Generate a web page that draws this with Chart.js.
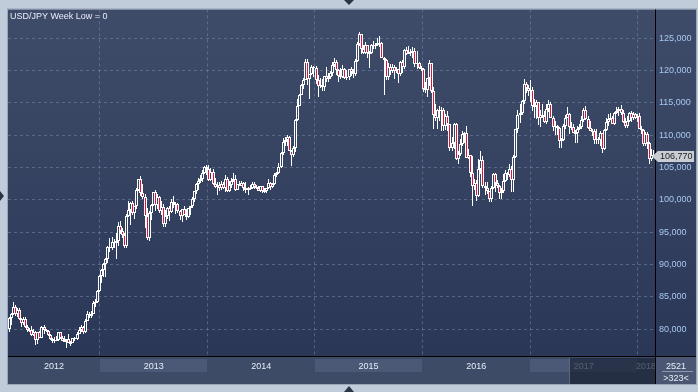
<!DOCTYPE html>
<html><head><meta charset="utf-8">
<script src="https://cdn.jsdelivr.net/npm/chart.js@4.4.1/dist/chart.umd.min.js"></script>
<style>html,body{margin:0;padding:0;background:#c1ccda;overflow:hidden}</style>
</head><body>
<canvas id="c" width="698" height="392"></canvas>
<script>
const chartTitle = 'USD/JPY Week Low = 0';
const firstWeek = new Date(2012, 1, 27); // week index 0
const yearLabels = ['2012', '2013', '2014', '2015', '2016', '2017', '2018'];
const yTickStep = 5;
const barCountText = '2521';
const visibleCountText = '>323<';
const navigatorFromWeek = 272;

const opens = [
 80.0,81.7,82.4,83.4,82.4,82.9,81.6,80.9,81.5,80.3,79.8,79.9,79.1,79.6,78.3,79.5,78.7,80.4,79.8,79.7,79.1,78.5,78.2,78.3,78.3,79.6,78.7,78.2,78.2,78.4,77.9,77.9,78.6,78.4,79.3,79.8,80.4,79.5,81.3,82.4,82.1,82.4,84.0,84.2,85.9,
 88.2,89.2,90.1,90.9,92.7,92.6,93.5,93.4,93.6,96.0,95.2,94.5,92.8,97.5,98.4,99.5,98.0,99.0,101.6,103.2,101.0,100.5,97.5,94.1,97.9,99.2,101.2,99.2,100.4,98.2,98.9,96.2,97.5,98.7,98.1,99.7,99.4,99.3,98.3,97.5,98.6,97.7,97.4,98.7,99.1,100.2,101.3,102.4,102.9,103.2,104.1,105.1,
 104.8,103.0,104.3,102.4,102.0,102.3,101.8,102.5,101.8,103.3,101.3,102.3,102.9,103.3,101.6,102.4,102.2,102.6,101.8,101.5,101.9,101.8,102.5,102.0,101.9,101.4,102.1,101.3,101.4,101.8,102.6,102.0,102.4,103.8,104.1,105.1,107.3,109.0,109.3,109.8,107.6,106.9,108.1,112.3,114.6,116.3,117.7,118.6,121.4,118.7,119.4,120.5,
 120.4,118.6,117.6,117.7,117.5,119.1,118.7,119.0,119.6,120.8,121.4,120.1,119.1,119.0,120.2,118.9,119.0,120.2,119.8,119.4,121.5,124.1,125.6,123.4,122.7,123.9,122.8,122.7,124.0,123.8,123.9,124.2,124.3,122.0,121.7,119.0,120.6,120.0,120.6,119.9,120.2,119.4,121.4,120.6,123.2,122.6,122.8,122.9,123.1,121.0,121.2,120.4,
 120.2,117.2,117.0,118.8,121.1,116.8,113.2,112.6,113.9,113.8,113.9,111.5,113.0,111.7,108.1,108.8,111.8,106.3,107.1,108.6,110.2,110.3,106.5,106.9,104.2,102.2,102.6,100.6,104.8,106.1,102.1,101.8,101.3,100.2,101.8,104.0,102.6,102.2,101.0,101.4,102.9,104.2,103.8,104.7,103.1,106.6,110.9,113.2,113.5,115.3,117.9,117.3,
 116.9,117.0,114.5,114.6,115.1,112.6,113.2,112.9,112.1,114.0,114.8,112.7,111.3,111.4,111.1,109.1,109.2,111.5,112.7,113.3,111.2,111.3,110.4,110.3,110.9,111.3,112.4,113.9,112.5,111.1,110.7,110.6,109.2,109.4,109.3,110.3,107.8,110.8,112.0,112.5,112.6,111.8,113.5,113.7,114.1,113.5,112.1,111.5,112.2,113.5,112.6,113.3,
 112.7,113.0,111.0,110.8,108.6,110.2,108.8,106.3,106.9
];
const highs = [
 81.9,82.5,84.2,83.8,83.3,83.3,81.7,81.9,81.8,80.6,80.2,80.5,80.0,79.7,79.6,79.7,80.5,80.6,80.0,79.8,79.3,78.6,78.8,78.9,79.6,79.6,78.9,78.9,78.5,79.2,78.2,78.7,78.8,79.5,80.4,80.6,80.5,81.5,82.8,82.6,82.8,84.3,84.6,86.0,88.4,
 89.3,90.2,91.0,92.8,94.1,94.2,94.0,94.8,96.6,96.7,95.7,94.8,97.8,99.9,99.6,99.9,99.0,101.9,103.3,103.7,102.5,100.9,98.8,98.2,99.4,101.2,101.5,100.9,100.6,99.9,99.4,98.5,98.9,99.0,100.2,100.6,99.7,99.5,98.4,98.6,99.0,98.6,98.8,99.1,100.4,101.4,102.6,103.4,103.9,104.6,105.2,105.4,
 105.4,104.9,104.8,103.4,102.7,102.8,102.9,102.7,103.8,103.5,102.9,103.4,104.1,103.8,102.5,102.9,102.9,102.8,102.7,102.0,102.3,102.8,102.8,102.3,102.2,102.2,102.2,101.8,101.9,103.2,102.8,102.6,104.1,104.3,105.7,107.4,109.5,109.7,110.1,109.9,107.7,108.4,112.5,115.6,116.4,118.0,118.9,121.8,121.8,119.5,120.8,120.7,
 120.7,119.3,118.9,118.7,119.2,120.5,119.6,119.9,121.3,122.0,121.7,120.2,120.4,120.8,120.4,120.1,120.3,120.5,120.3,121.8,124.5,125.9,125.7,124.0,124.4,124.0,123.0,124.1,124.6,124.2,125.0,125.3,124.5,122.1,121.8,121.2,121.0,121.0,120.8,120.6,120.3,121.5,121.7,123.3,123.6,123.8,123.3,123.7,123.5,123.0,121.4,120.7,
 120.4,118.3,118.9,121.7,121.2,117.5,114.9,114.0,114.6,114.3,114.2,113.3,113.8,111.8,109.8,111.9,111.9,107.5,109.4,110.6,110.5,111.4,107.9,107.0,106.8,103.3,103.1,106.3,107.5,106.8,102.8,102.7,101.4,102.1,104.2,104.2,103.1,102.3,101.8,104.0,104.6,104.3,105.5,105.2,107.0,111.0,113.9,114.8,115.4,118.7,118.3,117.8,
 118.6,117.5,115.6,115.4,115.2,113.9,114.9,113.8,114.8,115.5,115.2,113.0,112.2,111.6,111.2,109.6,111.8,113.1,114.4,113.5,112.1,111.7,110.8,111.4,111.8,112.9,114.2,114.5,112.9,112.2,111.0,110.9,110.9,109.8,110.7,110.4,111.0,112.7,113.3,113.4,112.9,113.6,114.3,114.4,114.7,113.9,112.7,113.0,113.6,113.7,113.6,113.4,
 113.3,113.4,111.5,111.0,110.5,110.5,108.9,107.9,107.7
];
const lows = [
 79.6,80.6,82.2,82.1,81.8,81.4,80.3,80.6,80.1,79.6,79.5,79.0,79.0,77.6,77.7,78.6,78.7,79.2,79.5,79.0,78.3,77.9,77.9,78.1,78.1,78.4,78.2,78.0,77.1,77.9,77.4,77.8,78.1,78.3,79.3,79.5,79.3,79.4,81.3,81.7,81.7,82.3,83.4,84.1,85.8,
 87.1,88.1,88.1,90.3,91.9,92.2,92.5,90.9,92.9,94.7,94.1,92.6,92.6,97.4,96.1,97.6,97.1,98.6,101.3,100.6,100.1,95.6,93.8,93.7,96.9,99.1,98.3,98.6,98.0,97.6,95.8,95.8,97.0,96.8,97.9,98.7,97.8,97.9,96.9,96.6,97.6,96.9,97.2,97.6,98.8,99.6,100.9,101.6,102.6,102.8,104.0,103.8,
 102.9,102.9,102.3,101.8,100.8,101.4,101.5,101.7,101.2,101.2,101.2,101.8,102.8,101.3,101.5,102.1,102.1,101.4,101.1,100.8,101.5,101.7,101.7,101.7,101.3,101.2,101.1,101.1,101.1,101.7,101.5,101.9,102.3,103.5,104.0,105.0,107.0,108.4,108.4,107.5,105.2,106.7,107.4,112.2,114.5,116.2,117.2,118.5,117.8,115.6,119.3,119.0,
 117.9,115.9,117.3,116.9,116.9,118.3,118.3,118.7,119.2,120.5,119.3,118.3,118.7,118.8,118.7,118.5,118.5,119.1,118.9,119.2,121.4,123.8,122.5,122.6,122.6,121.9,120.4,122.6,123.3,123.3,123.8,123.6,121.9,116.2,118.6,118.6,119.3,119.6,118.7,119.6,118.1,119.1,119.6,120.3,122.4,122.5,122.2,121.9,120.6,120.3,120.2,120.0,
 116.7,116.5,115.9,117.6,116.5,110.9,112.2,110.9,112.2,110.7,110.7,110.8,110.7,107.6,107.6,107.9,106.1,105.6,106.8,108.3,108.8,106.4,106.3,103.6,99.0,101.5,99.9,100.5,104.0,101.8,100.7,100.9,99.6,99.6,101.7,101.2,101.9,100.1,100.1,101.0,102.8,103.0,103.6,101.2,101.2,106.5,110.4,111.9,113.1,114.8,116.6,116.0,
 115.1,113.8,112.6,112.5,111.6,111.2,112.6,111.9,111.8,113.6,112.6,110.6,110.1,110.1,108.1,108.1,109.1,111.0,112.6,110.2,110.8,110.4,108.8,108.8,110.8,110.9,112.1,112.4,110.9,110.6,109.9,108.7,108.6,108.6,108.3,107.3,107.7,110.7,111.5,112.3,111.7,111.6,113.3,112.9,113.1,111.9,111.1,111.1,112.0,112.0,112.4,112.5,
 112.0,110.9,110.2,108.3,108.4,107.9,105.6,106.0,106.6
];
const closes = [
 81.7,82.4,83.4,82.4,82.9,81.6,80.9,81.5,80.3,79.8,79.9,79.1,79.6,78.3,79.5,78.7,80.4,79.8,79.7,79.1,78.5,78.2,78.3,78.3,79.6,78.7,78.2,78.2,78.4,77.9,77.9,78.6,78.4,79.3,79.8,80.4,79.5,81.3,82.4,82.1,82.4,84.0,84.2,85.9,88.2,
 89.2,90.1,90.9,92.7,92.6,93.5,93.4,93.6,96.0,95.2,94.5,92.8,97.5,98.4,99.5,98.0,99.0,101.6,103.2,101.0,100.5,97.5,94.1,97.9,99.2,101.2,99.2,100.4,98.2,98.9,96.2,97.5,98.7,98.1,99.7,99.4,99.3,98.3,97.5,98.6,97.7,97.4,98.7,99.1,100.2,101.3,102.4,102.9,103.2,104.1,105.1,104.8,
 103.0,104.3,102.4,102.0,102.3,101.8,102.5,101.8,103.3,101.3,102.3,102.9,103.3,101.6,102.4,102.2,102.6,101.8,101.5,101.9,101.8,102.5,102.0,101.9,101.4,102.1,101.3,101.4,101.8,102.6,102.0,102.4,103.8,104.1,105.1,107.3,109.0,109.3,109.8,107.6,106.9,108.1,112.3,114.6,116.3,117.7,118.6,121.4,118.7,119.4,120.5,120.4,
 118.6,117.6,117.7,117.5,119.1,118.7,119.0,119.6,120.8,121.4,120.1,119.1,119.0,120.2,118.9,119.0,120.2,119.8,119.4,121.5,124.1,125.6,123.4,122.7,123.9,122.8,122.7,124.0,123.8,123.9,124.2,124.3,122.0,121.7,119.0,120.6,120.0,120.6,119.9,120.2,119.4,121.4,120.6,123.2,122.6,122.8,122.9,123.1,121.0,121.2,120.4,120.2,
 117.2,117.0,118.8,121.1,116.8,113.2,112.6,113.9,113.8,113.9,111.5,113.0,111.7,108.1,108.8,111.8,106.3,107.1,108.6,110.2,110.3,106.5,106.9,104.2,102.2,102.6,100.6,104.8,106.1,102.1,101.8,101.3,100.2,101.8,104.0,102.6,102.2,101.0,101.4,102.9,104.2,103.8,104.7,103.1,106.6,110.9,113.2,113.5,115.3,117.9,117.3,116.9,
 117.0,114.5,114.6,115.1,112.6,113.2,112.9,112.1,114.0,114.8,112.7,111.3,111.4,111.1,109.1,109.2,111.5,112.7,113.3,111.2,111.3,110.4,110.3,110.9,111.3,112.4,113.9,112.5,111.1,110.7,110.6,109.2,109.4,109.3,110.3,107.8,110.8,112.0,112.5,112.6,111.8,113.5,113.7,114.1,113.5,112.1,111.5,112.2,113.5,112.6,113.3,112.7,
 113.0,111.0,110.8,108.6,110.2,108.8,106.3,106.9,106.77
];

// week index where each year (after the first) begins, from the calendar
const DAY = 86400000;
const yearStarts = yearLabels.slice(1).map(y => (new Date(+y, 0, 1) - firstWeek) / (7 * DAY));

const FONT = "'Liberation Sans', Arial, sans-serif";
const RED = '#dc143c';
const GRID = 'rgba(120,136,168,0.55)';
const PANEL_TOP = 8, PANEL_BOTTOM = 356;
const fmt = v => v.toFixed(3).replace('.', ',');

let panelGrad = null;
function getPanelGrad(chart) {
  if (!panelGrad) {
    panelGrad = chart.ctx.createLinearGradient(0, PANEL_TOP, 0, PANEL_BOTTOM);
    panelGrad.addColorStop(0, '#3f4c69');
    panelGrad.addColorStop(1, '#2a3757');
  }
  return panelGrad;
}

const snapPlugin = {
  id: 'snap',
  afterDatasetsUpdate(chart) {
    chart.data.datasets.forEach((ds, di) => {
      chart.getDatasetMeta(di).data.forEach(el => {
        el.x = Math.floor(el.x) + 0.5;
        let y = Math.round(el.y), b = Math.round(el.base);
        if (Math.abs(b - y) < 1) b = y + 1;
        el.y = y; el.base = b; el.height = b - y;
      });
    });
  }
};

const framePlugin = {
  id: 'frame',
  beforeDraw(chart) {
    const {ctx, chartArea: a, width: W, height: H} = chart;
    ctx.save();
    ctx.fillStyle = '#c1ccda';
    ctx.fillRect(0, 0, W, H);
    ctx.fillStyle = getPanelGrad(chart);
    ctx.fillRect(a.left, a.top, W - 2 - a.left, a.bottom + 1 - a.top);
    ctx.fillStyle = '#3d4b67';
    ctx.fillRect(a.left, a.bottom + 1, W - 2 - a.left, H - 8 - a.bottom - 1);
    ctx.strokeStyle = '#9aa6b9';
    ctx.lineWidth = 1;
    ctx.strokeRect(a.left - 0.5, a.top - 0.5, W - 2 - a.left + 1, H - 8 - a.top + 1);
    ctx.restore();
  },
  afterDraw(chart) {
    const {ctx, chartArea: a, width: W, height: H} = chart;
    const xs = chart.scales.x, ys = chart.scales.y;
    const bandTop = a.bottom + 1, bandBot = H - 8;
    ctx.save();
    const bounds = [a.left, ...yearStarts.map(v => xs.getPixelForValue(v))];
    bounds.push(bounds[bounds.length - 1] + (bounds[bounds.length - 1] - bounds[bounds.length - 2]));
    ctx.save();
    ctx.beginPath(); ctx.rect(a.left, bandTop, a.right - a.left, bandBot - bandTop); ctx.clip();
    for (let i = 0; i < yearLabels.length; i++) {
      if (i % 2 === 1) {
        const x0 = Math.round(bounds[i]), x1 = Math.round(bounds[i + 1]);
        ctx.fillStyle = '#4b5977'; ctx.fillRect(x0, bandTop + 2, x1 - x0, 13);
      }
    }
    ctx.font = '9px ' + FONT; ctx.textAlign = 'center'; ctx.textBaseline = 'alphabetic';
    ctx.fillStyle = '#e6edf8';
    for (let i = 0; i < yearLabels.length; i++) {
      const x0 = bounds[i];
      const x1 = (i === yearLabels.length - 1) ? Math.min(bounds[i + 1], x0 + 17) * 0 + x0 + 17 : bounds[i + 1];
      ctx.fillText(yearLabels[i], (x0 + x1) / 2, bandTop + 12);
    }
    const nx = Math.round(xs.getPixelForValue(navigatorFromWeek));
    ctx.fillStyle = 'rgba(28,36,56,0.72)';
    ctx.fillRect(nx, bandTop + 1, a.right - nx, bandBot - bandTop - 1);
    ctx.fillStyle = '#5a6680';
    ctx.fillRect(nx, bandTop + 1, 1, bandBot - bandTop - 1);
    ctx.restore();
    // corner box
    ctx.fillStyle = '#4b5772';
    ctx.fillRect(a.right + 1, bandTop, W - 3 - a.right, bandBot - bandTop);
    ctx.fillStyle = '#e8eef7';
    ctx.font = '9px ' + FONT; ctx.textAlign = 'center'; ctx.textBaseline = 'alphabetic';
    const cx = (a.right + 1 + W - 2) / 2;
    ctx.fillText(barCountText, cx, bandTop + 12);
    ctx.fillStyle = '#8d99ad';
    ctx.fillRect(a.right + 7, bandTop + 14, W - 12 - a.right, 1);
    ctx.fillStyle = '#e8eef7';
    ctx.fillText(visibleCountText, cx, bandTop + 24);
    // axis lines
    ctx.fillStyle = '#000';
    ctx.fillRect(a.left, a.bottom, W - 2 - a.left, 1);
    ctx.fillRect(a.right, a.top, 1, bandBot - a.top);
    // last price tag
    const last = closes[closes.length - 1];
    const yp = Math.round(ys.getPixelForValue(last)) + 0.5;
    ctx.fillStyle = '#c9cdd4';
    ctx.beginPath();
    ctx.moveTo(a.right - 3, yp);
    ctx.lineTo(a.right + 3, yp - 5.5);
    ctx.lineTo(W - 4, yp - 5.5);
    ctx.lineTo(W - 4, yp + 5.5);
    ctx.lineTo(a.right + 3, yp + 5.5);
    ctx.closePath(); ctx.fill();
    ctx.fillStyle = '#222';
    ctx.textAlign = 'left'; ctx.textBaseline = 'middle';
    ctx.fillText(fmt(last), a.right + 5, yp + 0.5);
    // title
    ctx.fillStyle = '#e8eef8';
    ctx.textBaseline = 'alphabetic';
    ctx.fillText(chartTitle, a.left + 2, a.top + 10);
    // frame arrows
    ctx.fillStyle = '#2b3345';
    ctx.beginPath(); ctx.moveTo(344, 0); ctx.lineTo(354, 0); ctx.lineTo(349, 5); ctx.closePath(); ctx.fill();
    ctx.beginPath(); ctx.moveTo(344, H); ctx.lineTo(354, H); ctx.lineTo(349, H - 6); ctx.closePath(); ctx.fill();
    ctx.beginPath(); ctx.moveTo(0, 191); ctx.lineTo(0, 201); ctx.lineTo(4, 196); ctx.closePath(); ctx.fill();
    ctx.restore();
  }
};

const bodyData = opens.map((o, i) => ({x: i, y: [o, closes[i]]}));
const wickData = opens.map((o, i) => ({x: i, y: [lows[i], highs[i]]}));

new Chart(document.getElementById('c'), {
  type: 'bar',
  data: {
    datasets: [
      {
        label: 'body', data: bodyData, order: 0, grouped: false,
        barThickness: 3, borderWidth: 1, borderColor: '#ffffff', borderSkipped: false, inflateAmount: 0,
        backgroundColor: ctx => (closes[ctx.dataIndex] < opens[ctx.dataIndex] ? RED : getPanelGrad(ctx.chart))
      },
      {
        label: 'wick', data: wickData, order: 1, grouped: false,
        barThickness: 1, borderWidth: 0, inflateAmount: 0, backgroundColor: '#ffffff'
      }
    ]
  },
  options: {
    responsive: false, animation: false, devicePixelRatio: 1,
    layout: {padding: {left: 8, top: 8, right: 1, bottom: 8}},
    plugins: {legend: {display: false}, tooltip: {enabled: false}},
    scales: {
      x: {
        type: 'linear', min: -0.5, max: opens.length - 0.5, offset: false,
        afterBuildTicks: s => { s.ticks = yearStarts.map(v => ({value: v})); },
        afterFit: s => { s.height = 28; },
        ticks: {display: false},
        grid: {color: GRID, drawTicks: false, offset: false},
        border: {display: false, dash: [3, 3]}
      },
      y: {
        position: 'right', min: 75.84, max: 129.47, beginAtZero: false,
        afterFit: s => { s.width = 42; },
        ticks: {stepSize: yTickStep, includeBounds: false, color: '#a8c8f0', padding: 4,
                font: {family: FONT, size: 9}, callback: v => fmt(v)},
        grid: {color: GRID, drawTicks: false},
        border: {display: false, dash: [3, 3]}
      }
    }
  },
  plugins: [snapPlugin, framePlugin]
});
</script>
</body></html>
